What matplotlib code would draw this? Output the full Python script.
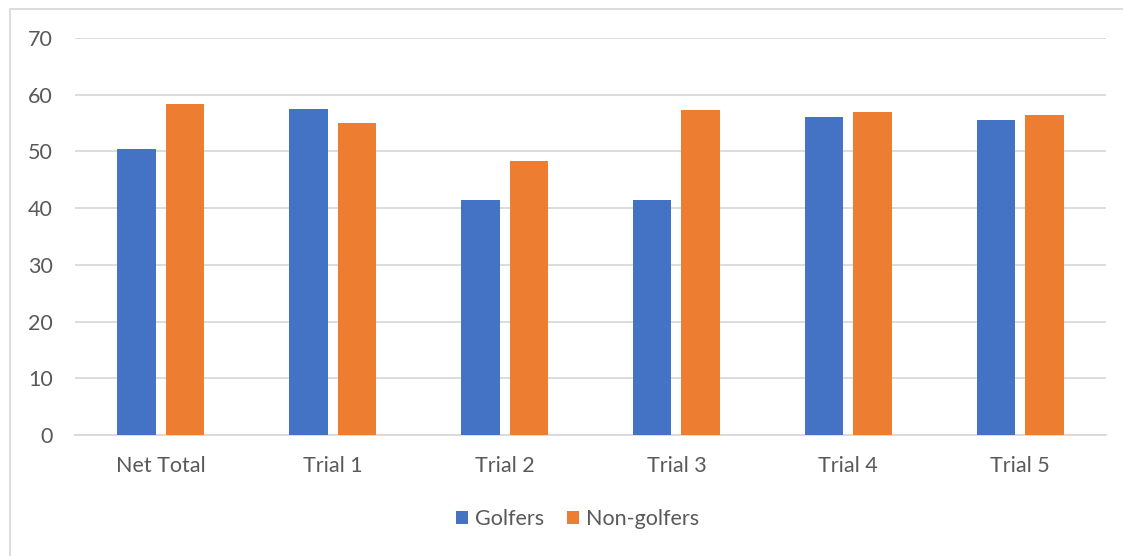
import matplotlib
matplotlib.use('Agg')
from matplotlib import pyplot as plt
from matplotlib.lines import Line2D
import numpy as np

plt.rcParams['font.family'] = ['Lato', 'DejaVu Sans']

categories = ['Net Total', 'Trial 1', 'Trial 2', 'Trial 3', 'Trial 4', 'Trial 5']
golfers = [50.5, 57.5, 41.4, 41.4, 56.0, 55.5]
non_golfers = [58.4, 55.0, 48.3, 57.3, 57.0, 56.5]

blue = '#4472C4'
orange = '#ED7D31'
grid_col = '#D9D9D9'
text_col = '#595959'

W, H = 1123, 556
fig = plt.figure(figsize=(W/100, H/100), dpi=100)
ax = fig.add_axes([75/W, 1 - 435/H, (1106 - 75)/W, (435 - 38)/H])

x = np.arange(len(categories))
w = 0.224
off = 0.141
ax.bar(x - off, golfers, w, color=blue, label='Golfers', zorder=3)
ax.bar(x + off, non_golfers, w, color=orange, label='Non-golfers', zorder=3)

ax.set_xlim(-0.5, len(categories) - 0.5)
ax.set_ylim(0, 70)
ax.set_yticks(range(0, 71, 10))
ax.set_xticks(x)
ax.set_xticklabels(categories)
ax.yaxis.grid(True, color=grid_col, linewidth=1.3, zorder=0)
ax.set_axisbelow(True)
for s in ['top', 'right', 'left']:
    ax.spines[s].set_visible(False)
ax.spines['bottom'].set_color(grid_col)
ax.spines['bottom'].set_linewidth(1.3)
ax.tick_params(axis='both', length=0, labelsize=15.5, labelcolor=text_col)
ax.tick_params(axis='x', pad=15)
ax.tick_params(axis='y', pad=16)

fig.legend(loc='center', bbox_to_anchor=(577.5/W, 1 - 519/H), ncol=2, frameon=False,
           fontsize=15.5, labelcolor=text_col, handlelength=0.56, handleheight=0.6,
           handletextpad=0.3, columnspacing=1.1)

# chart area border (top and left edges only are visible)
fig.add_artist(Line2D([10/W, 10/W, 1.0], [0.0, 1 - 8.5/H, 1 - 8.5/H],
                      transform=fig.transFigure, color=grid_col, linewidth=1.3))

fig.savefig('out.png', dpi=100)
